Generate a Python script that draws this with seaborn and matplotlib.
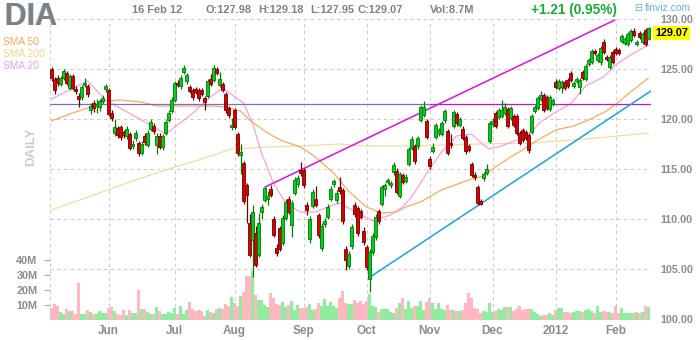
import numpy as np
import pandas as pd
import matplotlib
matplotlib.use("Agg")
import matplotlib.pyplot as plt
import seaborn as sns

sns.set_theme(style="white")
plt.rcParams["font.family"] = ["Liberation Sans", "DejaVu Sans"]

# ---------------- data ----------------
start_date = "2011-05-04"
end_date = "2012-02-16"
holidays = ["2011-05-30", "2011-07-04", "2011-09-05", "2011-11-24",
            "2011-12-26", "2012-01-02", "2012-01-16"]

opens = [125.0, 124.0, 124.1, 123.5, 124.1, 124.6, 123.1, 124.3, 123.0, 122.3,
         122.2, 123.4, 123.3, 120.9, 121.6, 121.3, 121.2, 121.8, 123.0, 122.9,
         120.6, 118.6, 119.1, 119.2, 118.7, 118.3, 118.5, 117.3, 118.1, 117.6,
         116.6, 118.3, 117.4, 119.0, 119.3, 117.4, 118.3, 117.2, 118.6, 119.9,
         120.8, 121.9, 123.6, 123.3, 124.7, 123.8, 123.2, 122.9, 123.0, 122.9,
         122.9, 122.1, 122.3, 124.0, 123.9, 125.0, 123.4, 123.5, 122.5, 121.1,
         119.2, 120.9, 118.5, 116.4, 115.6, 113.4, 109.6, 107.9, 108.6, 106.4,
         110.7, 111.9, 112.0, 113.0, 110.0, 107.1, 109.1, 107.6, 110.1, 112.0,
         109.4, 112.6, 113.5, 114.9, 114.9, 111.4, 108.0, 111.3, 112.0, 110.4,
         107.1, 109.5, 110.2, 112.0, 113.5, 111.9, 113.2, 112.9, 107.0, 105.3,
         107.3, 111.4, 111.1, 110.8, 108.8, 107.2, 104.0, 106.7, 108.2, 110.8,
         111.5, 113.0, 113.7, 113.4, 114.7, 114.8, 112.3, 114.4, 113.8, 115.5,
         117.1, 117.3, 117.3, 119.9, 120.4, 119.8, 116.0, 116.8, 118.2, 118.6,
         118.5, 119.9, 118.8, 117.6, 119.3, 120.5, 119.4, 119.0, 118.2, 117.3,
         115.5, 114.4, 113.2, 111.8, 114.1, 114.6, 117.8, 119.5, 120.6, 120.2,
         120.3, 120.6, 121.0, 120.1, 120.3, 120.3, 118.6, 118.9, 118.7, 118.4,
         118.7, 120.8, 121.1, 122.0, 122.4, 122.2, 121.0, 121.5, 123.7, 123.1,
         123.2, 123.7, 123.9, 124.6, 123.3, 123.8, 123.2, 124.7, 124.0, 125.5,
         125.7, 126.8, 125.9, 125.7, 127.7, 126.2, 125.2, 126.7, 127.0, 126.9,
         127.8, 127.6, 127.5, 127.9, 128.8, 127.5, 128.6, 127.7, 128.9, 127.98]

closes = [124.1, 122.9, 123.6, 124.1, 124.8, 123.6, 124.3, 123.1, 122.8, 122.0,
          123.2, 123.6, 122.5, 121.3, 121.1, 121.5, 121.8, 122.1, 123.3, 120.5,
          120.1, 119.2, 118.4, 118.2, 118.4, 119.0, 117.1, 117.5, 118.6, 116.6,
          117.5, 117.7, 118.6, 119.7, 118.8, 118.3, 117.2, 118.3, 119.7, 120.6,
          121.9, 123.6, 123.4, 124.1, 125.1, 124.4, 122.8, 122.2, 122.7, 122.1,
          122.5, 121.7, 123.8, 123.5, 125.1, 124.6, 124.0, 122.9, 120.9, 120.4,
          119.4, 119.2, 116.6, 116.7, 111.8, 112.4, 106.4, 110.7, 105.4, 109.6,
          111.2, 113.1, 112.3, 112.4, 108.4, 106.6, 107.0, 110.1, 111.7, 110.7,
          111.6, 113.9, 114.1, 114.6, 113.4, 110.9, 110.0, 112.7, 111.4, 108.4,
          109.3, 109.8, 111.2, 113.0, 113.8, 112.6, 112.8, 109.8, 105.9, 106.5,
          109.2, 110.5, 108.6, 110.2, 107.7, 105.2, 106.7, 108.3, 110.2, 109.8,
          113.2, 113.4, 113.9, 113.6, 115.4, 112.7, 114.5, 113.7, 114.2, 117.0,
          118.0, 115.8, 118.1, 121.2, 121.2, 118.2, 115.3, 117.2, 119.4, 118.9,
          119.6, 120.8, 116.6, 117.4, 120.7, 119.6, 120.0, 118.1, 116.8, 116.9,
          114.4, 114.2, 111.6, 111.5, 114.5, 115.0, 119.6, 119.8, 119.3, 120.9,
          120.9, 121.2, 119.3, 121.1, 119.4, 118.6, 117.6, 117.9, 118.1, 116.9,
          120.3, 121.2, 122.1, 122.4, 120.9, 121.1, 122.2, 121.9, 123.2, 123.8,
          123.7, 123.1, 123.3, 123.9, 123.6, 124.0, 123.9, 124.1, 125.3, 125.9,
          126.8, 126.6, 126.4, 127.1, 126.7, 126.0, 126.2, 125.7, 126.6, 126.6,
          128.3, 128.0, 128.5, 128.8, 128.4, 127.7, 128.2, 128.5, 127.5, 129.07]

highs = [125.2, 124.2, 124.4, 124.3, 125.0, 124.8, 124.5, 124.5, 123.3, 122.6,
         123.4, 124.1, 123.5, 121.6, 121.9, 122.0, 122.0, 122.4, 123.5, 123.1,
         120.9, 120.0, 119.3, 119.4, 118.9, 119.3, 118.7, 117.9, 118.9, 117.8,
         117.8, 118.6, 118.9, 120.0, 119.6, 118.6, 118.6, 118.5, 119.9, 120.9,
         122.2, 123.8, 123.9, 124.4, 125.4, 124.6, 123.4, 123.1, 123.2, 123.1,
         123.1, 122.3, 124.0, 124.5, 125.4, 125.2, 124.7, 123.7, 122.7, 121.3,
         120.1, 121.1, 118.7, 117.5, 115.8, 113.6, 110.5, 111.4, 109.3, 110.6,
         111.5, 113.3, 112.8, 113.4, 110.3, 107.5, 109.3, 110.4, 112.0, 112.3,
         111.9, 114.2, 114.4, 115.7, 115.1, 111.7, 110.3, 113.0, 113.3, 110.6,
         109.6, 110.1, 111.5, 113.3, 114.0, 112.9, 114.2, 113.1, 107.3, 106.8,
         109.5, 111.7, 111.3, 111.0, 109.2, 107.4, 107.0, 108.6, 110.5, 111.0,
         113.4, 113.6, 114.1, 113.8, 115.7, 115.1, 114.7, 114.6, 114.5, 117.2,
         118.3, 117.5, 118.3, 121.4, 121.8, 120.0, 116.3, 117.6, 119.6, 119.1,
         119.8, 121.0, 119.0, 118.5, 120.9, 120.7, 120.2, 119.3, 118.4, 117.5,
         115.7, 114.7, 113.4, 112.0, 114.7, 115.5, 119.8, 120.1, 120.8, 121.1,
         121.9, 121.6, 121.2, 121.3, 120.5, 120.5, 118.8, 119.1, 118.9, 118.6,
         120.5, 121.4, 122.3, 122.8, 122.6, 122.4, 122.4, 122.1, 124.0, 124.0,
         123.9, 123.9, 124.1, 124.8, 123.8, 124.2, 124.1, 124.9, 125.5, 126.1,
         127.0, 127.0, 126.6, 127.3, 128.0, 126.4, 126.4, 126.9, 127.2, 127.1,
         128.5, 128.2, 128.7, 129.0, 129.1, 127.9, 128.8, 128.7, 129.1, 129.18]

lows = [123.8, 122.5, 123.3, 123.3, 123.9, 123.4, 122.9, 122.9, 122.5, 121.2,
        121.9, 123.2, 122.2, 120.5, 120.7, 120.6, 120.8, 121.5, 122.7, 120.3,
        119.8, 118.3, 118.1, 117.9, 118.1, 118.0, 116.9, 117.0, 117.8, 116.3,
        116.4, 117.4, 117.2, 118.8, 118.5, 116.5, 117.0, 116.9, 118.4, 119.7,
        120.6, 121.7, 123.2, 123.0, 124.5, 123.5, 122.6, 121.9, 122.5, 121.8,
        122.3, 120.9, 122.1, 123.3, 123.7, 124.4, 123.2, 122.7, 120.6, 120.1,
        118.9, 119.0, 116.3, 114.5, 111.5, 109.6, 106.2, 104.2, 105.2, 106.2,
        110.0, 111.7, 111.4, 112.2, 108.2, 106.3, 106.8, 107.4, 109.9, 110.5,
        108.2, 112.4, 113.2, 114.3, 113.1, 110.4, 107.6, 111.1, 111.2, 108.1,
        106.8, 109.2, 110.0, 111.8, 113.2, 111.6, 112.5, 109.5, 104.9, 105.0,
        107.0, 110.2, 108.3, 110.0, 107.4, 104.9, 102.7, 106.4, 107.9, 109.5,
        111.3, 112.3, 113.5, 113.1, 114.4, 112.5, 112.1, 113.5, 113.6, 115.3,
        116.9, 115.5, 117.0, 119.7, 120.2, 118.0, 115.0, 116.6, 118.0, 118.3,
        118.3, 119.6, 116.4, 117.1, 119.1, 119.3, 119.2, 117.9, 116.5, 116.7,
        114.2, 113.9, 111.4, 111.4, 113.8, 114.4, 117.6, 119.2, 119.1, 120.0,
        120.1, 120.4, 119.1, 119.9, 119.2, 118.4, 117.4, 117.7, 117.9, 116.6,
        118.5, 120.6, 120.9, 121.8, 120.7, 120.9, 120.8, 121.3, 123.0, 122.9,
        122.6, 122.9, 123.1, 123.7, 123.1, 123.6, 122.5, 123.9, 123.8, 125.3,
        125.5, 126.4, 125.7, 125.4, 126.5, 125.8, 125.0, 125.5, 126.4, 126.4,
        127.6, 127.4, 127.3, 127.7, 128.2, 127.3, 128.0, 127.5, 127.3, 127.95]

volumes = [7.8, 10.7, 9.3, 5.3, 4.0, 7.1, 6.0, 6.0, 4.0, 24.4,
           4.0, 4.0, 6.7, 5.3, 4.0, 4.0, 5.8, 4.4, 4.9, 7.8,
           8.4, 6.0, 4.0, 3.3, 6.7, 3.3, 6.7, 4.9, 4.9, 20.0,
           7.3, 7.3, 5.3, 4.0, 4.0, 8.7, 6.0, 4.0, 4.0, 5.3,
           4.9, 7.8, 4.0, 9.3, 4.0, 6.7, 12.0, 7.1, 6.0, 6.7,
           6.0, 2.7, 6.7, 5.3, 4.9, 7.1, 7.8, 7.1, 11.0, 9.3,
           15.6, 11.6, 9.3, 16.0, 18.7, 29.3, 29.3, 33.0, 16.7, 13.3,
           13.3, 10.0, 8.9, 17.8, 14.4, 10.7, 10.0, 12.2, 8.9, 10.0,
           12.7, 6.7, 10.0, 8.2, 7.8, 8.4, 10.7, 6.7, 7.3, 11.6,
           9.6, 14.0, 9.6, 12.2, 9.3, 7.8, 14.4, 19.6, 11.6, 11.0,
           10.7, 13.3, 11.6, 12.7, 10.7, 12.7, 17.3, 9.3, 8.4, 5.6,
           7.1, 7.1, 7.1, 5.3, 4.9, 7.8, 11.1, 14.4, 7.6, 12.7,
           7.8, 9.3, 9.3, 12.7, 6.7, 12.2, 14.4, 11.1, 7.1, 11.1,
           7.1, 6.7, 10.0, 6.7, 6.7, 6.2, 6.0, 6.7, 11.1, 18.2,
           14.4, 7.8, 7.1, 4.4, 6.0, 5.3, 11.1, 5.3, 6.0, 7.1,
           6.7, 8.4, 8.4, 8.4, 6.0, 7.1, 9.3, 6.7, 7.1, 7.1,
           7.1, 5.3, 4.0, 2.7, 3.3, 3.3, 4.9, 3.1, 6.7, 7.8,
           7.8, 5.3, 5.3, 4.9, 5.3, 6.0, 6.0, 5.3, 6.7, 7.1,
           6.0, 4.9, 9.3, 5.3, 6.0, 5.6, 5.3, 4.9, 9.3, 4.9,
           7.8, 4.9, 4.9, 4.9, 4.4, 5.6, 4.4, 5.3, 9.3, 8.7]

sma20_idx = [0, 12, 18, 30, 38, 46, 53, 57, 64, 67, 70, 74, 78, 83, 88, 92, 96, 102,
             107, 113, 117, 120, 123, 126, 130, 135, 140, 144, 146, 150, 156, 160,
             163, 167, 173, 178, 184, 188, 193, 197, 199]
sma20_val = [122.0, 123.8, 121.9, 119.9, 118.5, 120.3, 122.2, 123.1, 121.6, 119.6,
             116.6, 113.6, 111.6, 110.7, 110.7, 111.2, 111.6, 110.6, 109.8, 110.4,
             111.2, 112.2, 113.6, 115.0, 116.7, 118.3, 118.5, 117.4, 117.0, 117.3,
             118.0, 118.7, 119.7, 120.5, 121.5, 123.3, 124.2, 125.4, 126.4, 127.1, 127.4]

sma50_idx = [0, 7, 13, 18, 23, 30, 35, 46, 54, 58, 63, 66, 72, 77, 83, 88, 94, 99,
             105, 110, 115, 118, 123, 130, 139, 144, 148, 153, 157, 161, 168, 174,
             179, 185, 189, 193, 199]
sma50_val = [119.8, 120.6, 121.2, 121.8, 121.9, 121.7, 121.3, 121.3, 121.3, 121.2,
             120.8, 119.9, 118.6, 117.8, 117.2, 116.2, 114.6, 112.8, 111.2, 110.6,
             110.7, 111.2, 111.7, 112.9, 113.9, 114.3, 115.2, 116.2, 116.9, 117.7,
             118.9, 119.3, 119.9, 120.8, 121.7, 122.7, 124.1]

sma200_idx = [0, 16, 26, 38, 49, 60, 72, 83, 96, 105, 120, 143, 160, 178, 199]
sma200_val = [110.9, 112.6, 113.7, 114.9, 115.9, 117.0, 117.2, 117.3, 117.5, 117.3,
              117.3, 117.5, 117.6, 118.0, 118.6]

upper_trend_idx = [71.2, 187.8]
upper_trend_val = [113.2, 129.9]
lower_trend_idx = [106.2, 199.8]
lower_trend_val = [104.2, 122.8]
resistance_level = 121.5
resistance_split_idx = 126

price_ticks = [100, 105, 110, 115, 120, 125, 130]
volume_ticks = [10, 20, 30, 40]
volume_tick_labels = ["10M", "20M", "30M", "40M"]

# ---------------- build ----------------
dates = pd.bdate_range(start_date, end_date)
dates = dates[~dates.isin(pd.to_datetime(holidays))]
n = len(closes)
dates = dates[:n]
idx = np.arange(n)
df = pd.DataFrame({"date": dates, "open": opens, "high": highs, "low": lows,
                   "close": closes, "volume": volumes, "i": idx})
up = df["close"] >= df["open"]

month_pos, month_lab = [], []
for k in range(1, n):
    if dates[k].month != dates[k - 1].month:
        month_pos.append(k)
        month_lab.append("2012" if dates[k].month == 1 else dates[k].strftime("%b"))

W, H = 700, 340
Lp, Rp, Tp, Bp = 50, 651, 19, 320
fig = plt.figure(figsize=(W / 100, H / 100), dpi=100)
fig.patch.set_facecolor("white")
rect = [Lp / W, 1 - Bp / H, (Rp - Lp) / W, (Bp - Tp) / H]
ax_vol = fig.add_axes(rect)
ax = fig.add_axes(rect, sharex=ax_vol)
ax.patch.set_visible(False)

xmin, xmax = -0.5, -0.5 + (Rp - Lp) / 3.0
ax.set_xlim(xmin, xmax)
ax.set_ylim(99.9, 99.9 + (Bp - Tp) / 10.0)
ax_vol.set_ylim(0, (Bp - Tp) / 1.5)

grid_c = "#cccccc"
dash = (0, (3, 3))
# volume bars
vol_colors = np.where(up, "#90ec9e", "#ffb7c0")
ax_vol.bar(df["i"], df["volume"], width=1.0, color=vol_colors, linewidth=0, zorder=2)

# grid
for p in price_ticks[1:]:
    ax.axhline(p, color=grid_c, lw=0.8, ls=dash, zorder=0)
for m in month_pos:
    ax.axvline(m, color=grid_c, lw=0.8, ls=dash, zorder=0)
ax.axvline(xmin + 0.15, color=grid_c, lw=0.8, ls=dash, zorder=0)
ax.axvline(xmax - 0.15, color=grid_c, lw=0.8, ls=dash, zorder=0)

# SMAs
sns.lineplot(x=sma200_idx, y=sma200_val, ax=ax, color="#f3dc98", lw=0.85, zorder=3)
sns.lineplot(x=sma50_idx, y=sma50_val, ax=ax, color="#ffa555", lw=0.85, zorder=3)
sns.lineplot(x=sma20_idx, y=sma20_val, ax=ax, color="#ff9ad8", lw=0.85, zorder=3)

# horizontal level and trend lines
ax.plot([xmin, resistance_split_idx], [resistance_level] * 2, color="#7f6cc4", lw=0.9, zorder=4)
ax.plot([resistance_split_idx, xmax], [resistance_level] * 2, color="#c414c4", lw=0.9, zorder=4)
ax.plot(upper_trend_idx, upper_trend_val, color="#dd11dd", lw=1.1, zorder=4)
ax.plot(lower_trend_idx, lower_trend_val, color="#1ea0e6", lw=1.1, zorder=4)

# candles
edge = np.where(up, "#007a00", "#6e0000")
fill = np.where(up, "#00cc22", "#dd0000")
ax.vlines(df["i"], df["low"], df["high"], colors=edge, lw=0.9, zorder=5)
body_lo = np.minimum(df["open"], df["close"])
body_h = np.maximum(np.abs(df["close"] - df["open"]), 0.08)
ax.bar(df["i"], body_h, bottom=body_lo, width=0.72, color=fill, edgecolor=edge,
       linewidth=0.6, zorder=6)

# axes styling
for a in (ax, ax_vol):
    for s in a.spines.values():
        s.set_visible(False)
    a.grid(False)

lab_c = "#8c8c8c"
ax.yaxis.tick_right()
ax.set_yticks(price_ticks)
ax.set_yticklabels([f"{p:.2f}" for p in price_ticks])
ax.tick_params(axis="y", length=0, pad=6.5, labelsize=7.8, labelcolor=lab_c)
for t in ax.get_yticklabels():
    t.set_fontweight("bold")

ax_vol.yaxis.tick_left()
ax_vol.set_yticks(volume_ticks)
ax_vol.set_yticklabels(volume_tick_labels)
ax_vol.tick_params(axis="y", length=4, width=0.8, color="#aaaaaa", pad=5,
                   labelsize=7.8, labelcolor=lab_c, left=True)
for t in ax_vol.get_yticklabels():
    t.set_fontweight("bold")

ax.set_xticks(month_pos)
ax.set_xticklabels(month_lab)
ax.tick_params(axis="x", length=0, pad=3.5, labelsize=8.5, labelcolor=lab_c)
for t in ax.get_xticklabels():
    t.set_fontweight("bold")
ax_vol.tick_params(axis="x", labelbottom=False, length=0)
ax.set_xlabel("")
ax.set_ylabel("")
ax_vol.set_xlabel("")
ax_vol.set_ylabel("")

# header texts
def ft(x, y, s, **kw):
    fig.text(x / W, 1 - y / H, s, va="center", ha=kw.pop("ha", "left"), **kw)

ft(4, 17, "DIA", fontsize=22, fontweight="bold", color="#a9c6e6")
ft(5, 17, "DIA", fontsize=22, fontweight="bold", color="#808080")
ft(132, 10, "16 Feb 12", fontsize=7.9, fontweight="bold", color="#808080")
ft(206, 10, "O:127.98", fontsize=7.9, fontweight="bold", color="#808080")
ft(258, 10, "H:129.18", fontsize=7.9, fontweight="bold", color="#808080")
ft(310, 10, "L:127.95", fontsize=7.9, fontweight="bold", color="#808080")
ft(358, 10, "C:129.07", fontsize=7.9, fontweight="bold", color="#808080")
ft(430, 10, "Vol:8.7M", fontsize=7.9, fontweight="bold", color="#808080")
ft(531, 10, "+1.21 (0.95%)", fontsize=9.8, fontweight="bold", color="#1aaa3a")
ft(634, 8, "\u229f", fontsize=7, color="#6aaee0", family=["DejaVu Sans"])
ft(645, 8, "finviz.com", fontsize=7.5, color="#6aaee0")

ft(3, 42, "SMA 50", fontsize=7.4, color="#ffa555")
ft(3, 54, "SMA 200", fontsize=7.4, color="#f0d690")
ft(3, 66, "SMA 20", fontsize=7.4, color="#ff99dd")
ft(31, 147, "DAILY", fontsize=9.5, fontweight="bold", color="#cccccc",
   rotation=90, ha="center")

ft(655, 33, "129.07", fontsize=7.8, fontweight="bold", color="black",
   bbox=dict(facecolor="#ffff00", edgecolor="none", pad=1.6))

fig.savefig("out.png", dpi=100, facecolor="white")
